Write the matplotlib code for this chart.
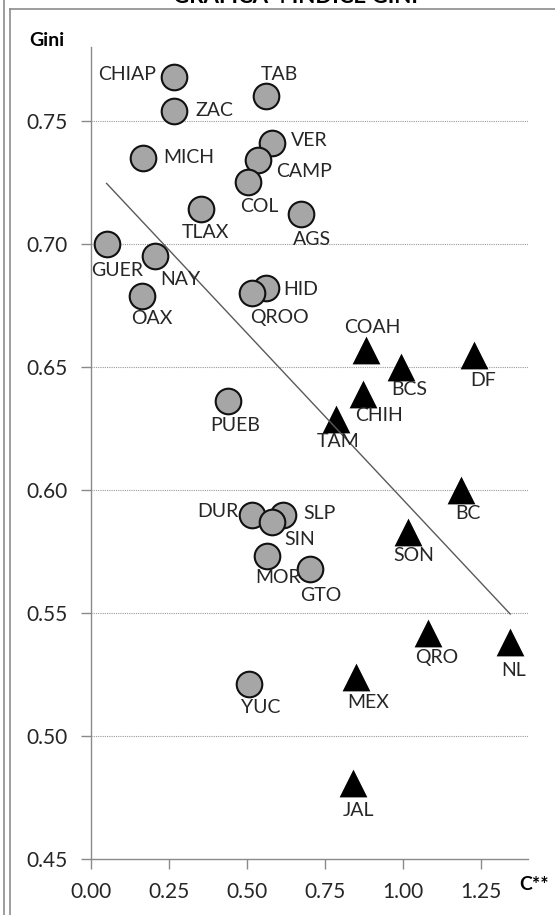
import numpy as np
import matplotlib.pyplot as plt
from matplotlib.lines import Line2D

plt.rcParams['font.family'] = ['Lato', 'DejaVu Sans']

# circles (grey)
circ_names = ['CHIAP', 'ZAC', 'TAB', 'MICH', 'VER', 'CAMP', 'COL', 'TLAX', 'AGS',
              'GUER', 'NAY', 'OAX', 'HID', 'QROO', 'PUEB', 'DUR', 'SLP', 'SIN',
              'MOR', 'GTO', 'YUC']
circ_x = [0.267, 0.267, 0.561, 0.168, 0.579, 0.536, 0.504, 0.352, 0.673,
          0.050, 0.205, 0.162, 0.560, 0.517, 0.438, 0.517, 0.616, 0.579,
          0.563, 0.702, 0.507]
circ_y = [0.768, 0.754, 0.760, 0.735, 0.741, 0.734, 0.725, 0.714, 0.712,
          0.700, 0.695, 0.679, 0.682, 0.680, 0.636, 0.590, 0.590, 0.587,
          0.573, 0.568, 0.521]

# triangles (black)
tri_names = ['COAH', 'BCS', 'DF', 'CHIH', 'TAM', 'BC', 'SON', 'QRO', 'NL', 'MEX', 'JAL']
tri_x = [0.882, 0.993, 1.228, 0.871, 0.785, 1.186, 1.015, 1.081, 1.343, 0.849, 0.840]
tri_y = [0.657, 0.650, 0.655, 0.639, 0.629, 0.600, 0.583, 0.542, 0.538, 0.524, 0.481]

x_ticks = [0.00, 0.25, 0.50, 0.75, 1.00, 1.25]
y_ticks = [0.45, 0.50, 0.55, 0.60, 0.65, 0.70, 0.75]

# label offsets in pixels (dx, dy)
label_off = {
    'CHIAP': (-47, 2), 'ZAC': (40, 0), 'TAB': (13, 22), 'MICH': (45, 0),
    'VER': (38, 2), 'CAMP': (46, -11), 'COL': (11, -24), 'TLAX': (5, -23),
    'AGS': (11, -25), 'GUER': (11, -27), 'NAY': (25, -23), 'OAX': (10, -23),
    'HID': (35, -1), 'QROO': (27, -24), 'PUEB': (7, -24), 'DUR': (-35, 3),
    'SLP': (36, 1), 'SIN': (28, -18), 'MOR': (11, -21), 'GTO': (11, -27),
    'YUC': (11, -23), 'COAH': (6, 22), 'BCS': (8, -23), 'DF': (9, -26),
    'CHIH': (16, -22), 'TAM': (2, -23), 'BC': (7, -24), 'SON': (6, -24),
    'QRO': (8, -25), 'NL': (3, -28), 'MEX': (12, -26), 'JAL': (5, -28),
}

fig = plt.figure(figsize=(5.55, 9.15), dpi=100)
ax = fig.add_axes([91/555, 56/915, (528-91)/555, (859-47)/915])

txtc = '#262626'
gridc = '#9a9a9a'
axc = '#8a8a8a'

ax.set_xlim(0, 1.4)
ax.set_ylim(0.45, 0.78)
ax.set_xticks(x_ticks)
ax.set_yticks(y_ticks)
ax.set_xticklabels(['%.2f' % v for v in x_ticks])
ax.set_yticklabels(['%.2f' % v for v in y_ticks])
ax.tick_params(axis='both', direction='out', length=7.5, width=1, color=axc,
               labelsize=15, labelcolor=txtc, pad=9)
for s in ['top', 'right']:
    ax.spines[s].set_visible(False)
for s in ['left', 'bottom']:
    ax.spines[s].set_color(axc)
    ax.spines[s].set_linewidth(1)
for yv in y_ticks[1:]:
    ax.axhline(yv, color=gridc, lw=0.8, ls=(0, (1, 1)), zorder=0)

allx = np.array(circ_x + tri_x)
ally = np.array(circ_y + tri_y)
b, a = np.polyfit(allx, ally, 1)
xl = np.array([allx.min(), allx.max()])
ax.plot(xl, a + b * xl, color='#5a5a5a', lw=1, zorder=3)

ax.scatter(circ_x, circ_y, s=340, marker='o', facecolor='#a6a6a6',
           edgecolor='#111111', linewidth=1.5, zorder=2)
ax.scatter(tri_x, tri_y, s=400, marker='^', facecolor='black',
           edgecolor='black', linewidth=0, zorder=2)

for nm, xv, yv in zip(circ_names + tri_names, circ_x + tri_x, circ_y + tri_y):
    dx, dy = label_off[nm]
    ax.annotate(nm, (xv, yv), xytext=(dx, dy), textcoords='offset pixels',
                ha='center', va='center', fontsize=14, color=txtc, zorder=4)

fig.text(46.5/555, 1 - 40/915, 'Gini', ha='center', va='center',
         fontsize=14, fontweight='bold', color='black')
fig.text(534/555, 1 - 885/915, 'C**', ha='center', va='center',
         fontsize=14, fontweight='bold', color='black')
fig.text(295/555, 1 - 2.7/915, 'GRÁFICA 4 ÍNDICE GINI', ha='center',
         va='baseline', fontsize=16, fontweight='bold', color='black')

# frame lines
bc = '#8c8c8c'
fig.add_artist(Line2D([3.7/555, 3.7/555], [0, 1], transform=fig.transFigure,
                      color=bc, lw=1.2))
fig.add_artist(Line2D([9.7/555, 9.7/555], [0, 1 - 8.6/915],
                      transform=fig.transFigure, color=bc, lw=1.2))
fig.add_artist(Line2D([9.7/555, 1], [1 - 8.6/915, 1 - 8.6/915],
                      transform=fig.transFigure, color=bc, lw=1.2))

fig.savefig('out.png', dpi=100)
